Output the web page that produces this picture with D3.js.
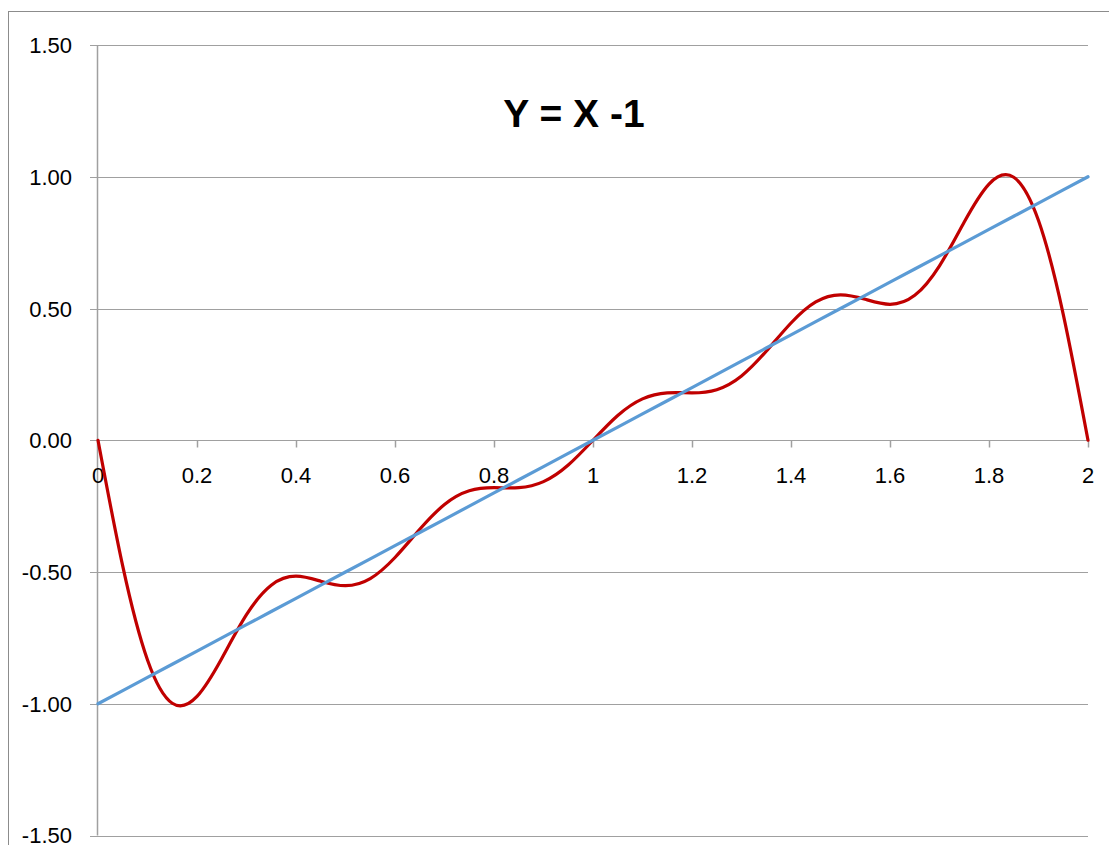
<!DOCTYPE html>
<html>
<head>
<meta charset="utf-8">
<script src="https://cdn.jsdelivr.net/npm/d3@7"></script>
<style>
  html, body { margin: 0; padding: 0; background: #fff; }
  svg { display: block; }
</style>
</head>
<body>
<svg id="chart" width="1109" height="845"></svg>
<script>
// ---- data ----
const title = "Y = X -1";
const xValues = [0,0.05,0.1,0.15,0.2,0.25,0.3,0.35,0.4,0.45,0.5,0.55,0.6,0.65,0.7,0.75,0.8,0.85,0.9,0.95,1,
                 1.05,1.1,1.15,1.2,1.25,1.3,1.35,1.4,1.45,1.5,1.55,1.6,1.65,1.7,1.75,1.8,1.85,1.9,1.95,2];
const fourierValues = [0,-0.478,-0.834,-0.998,-0.972,-0.828,-0.662,-0.550,-0.516,-0.535,-0.552,-0.525,-0.445,-0.338,-0.244,-0.192,-0.180,-0.180,-0.157,-0.094,0,
                 0.094,0.157,0.180,0.180,0.192,0.244,0.338,0.445,0.525,0.552,0.535,0.516,0.550,0.662,0.828,0.972,0.998,0.834,0.478,0];
const lineValues = [-1,-0.95,-0.9,-0.85,-0.8,-0.75,-0.7,-0.65,-0.6,-0.55,-0.5,-0.45,-0.4,-0.35,-0.3,-0.25,-0.2,-0.15,-0.1,-0.05,0,
                 0.05,0.1,0.15,0.2,0.25,0.3,0.35,0.4,0.45,0.5,0.55,0.6,0.65,0.7,0.75,0.8,0.85,0.9,0.95,1];
const xTicks = [0,0.2,0.4,0.6,0.8,1,1.2,1.4,1.6,1.8,2];
const xTickLabels = ["0","0.2","0.4","0.6","0.8","1","1.2","1.4","1.6","1.8","2"];
const yTicks = [-1.5,-1,-0.5,0,0.5,1,1.5];
const yTickLabels = ["-1.50","-1.00","-0.50","0.00","0.50","1.00","1.50"];

// ---- drawing ----
const svg = d3.select("#chart");
const font = "'Liberation Sans', Arial, sans-serif";
const gridColor = "#a0a0a0";

const x = d3.scaleLinear().domain([0, 2]).range([98, 1088]);
const y = d3.scaleLinear().domain([-1.5, 1.5]).range([835.5, 45]);

// chart border
svg.append("rect")
  .attr("x", 8.5).attr("y", 11.5)
  .attr("width", 1200).attr("height", 1000)
  .attr("fill", "none").attr("stroke", "#8c8c8c").attr("stroke-width", 1);

// horizontal gridlines (with outward tick)
svg.append("g").selectAll("line").data(yTicks).join("line")
  .attr("x1", x(0) - 8).attr("x2", x(2))
  .attr("y1", d => Math.round(y(d)) + 0.5).attr("y2", d => Math.round(y(d)) + 0.5)
  .attr("stroke", gridColor).attr("stroke-width", 1);

// y axis line
svg.append("line")
  .attr("x1", Math.round(x(0)) - 0.5).attr("x2", Math.round(x(0)) - 0.5)
  .attr("y1", y(1.5)).attr("y2", y(-1.5))
  .attr("stroke", gridColor).attr("stroke-width", 1.5);

// x axis ticks via d3 axis
const xAxis = d3.axisBottom(x).tickValues(xTicks).tickSize(7).tickFormat("");
const gx = svg.append("g").attr("transform", `translate(0,${Math.round(y(0)) + 0.5})`).call(xAxis);
gx.select(".domain").remove();
gx.selectAll(".tick line").attr("stroke", gridColor).attr("stroke-width", 1.5);

// x tick labels
svg.append("g").selectAll("text").data(xTicks).join("text")
  .attr("x", d => x(d)).attr("y", y(0) + 43)
  .attr("text-anchor", "middle")
  .attr("font-family", font).attr("font-size", 22).attr("fill", "#000")
  .text((d, i) => xTickLabels[i]);

// y tick labels
svg.append("g").selectAll("text").data(yTicks).join("text")
  .attr("x", 72).attr("y", d => Math.min(y(d) + 8, 843))
  .attr("text-anchor", "end")
  .attr("font-family", font).attr("font-size", 22).attr("fill", "#000")
  .text((d, i) => yTickLabels[i]);

// title
svg.append("text")
  .attr("x", 574).attr("y", 127)
  .attr("text-anchor", "middle")
  .attr("font-family", font).attr("font-weight", "bold").attr("font-size", 39)
  .attr("fill", "#000")
  .text(title);

// series
const fourier = xValues.map((d, i) => [d, fourierValues[i]]);
const straight = xValues.map((d, i) => [d, lineValues[i]]);

const line = d3.line().x(d => x(d[0])).y(d => y(d[1])).curve(d3.curveNatural);

svg.append("path").datum(fourier)
  .attr("d", line)
  .attr("fill", "none").attr("stroke", "#c00000").attr("stroke-width", 3.2)
  .attr("stroke-linejoin", "round").attr("stroke-linecap", "round");

svg.append("path").datum(straight)
  .attr("d", d3.line().x(d => x(d[0])).y(d => y(d[1])))
  .attr("fill", "none").attr("stroke", "#5b9bd5").attr("stroke-width", 3.2)
  .attr("stroke-linecap", "round");
</script>
</body>
</html>
